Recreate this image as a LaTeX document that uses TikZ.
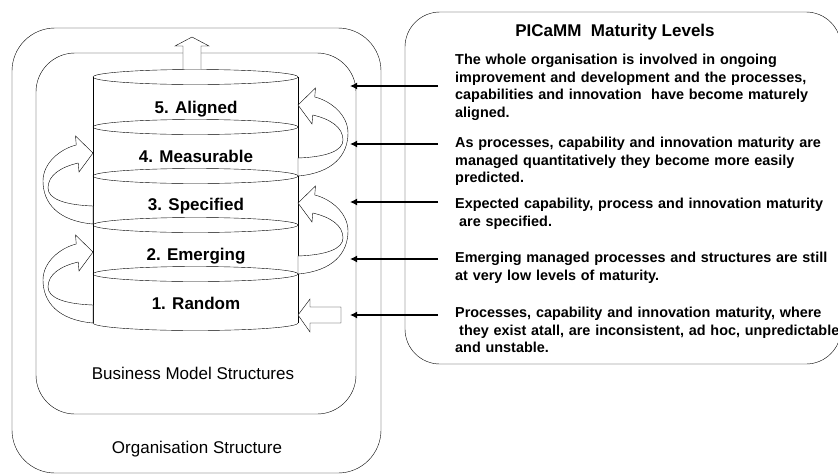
\documentclass[tikz,border=0pt]{standalone}
\usepackage{fontspec}
\setmainfont{Liberation Sans}
\usetikzlibrary{arrows.meta}

\begin{document}
\begin{tikzpicture}[x=1pt,y=-1pt]
  \tikzset{level/.style = {font=\fontsize{17}{20}\selectfont\bfseries,anchor=base,inner sep=0pt}}
  \tikzset{plain/.style = {font=\fontsize{17}{20}\selectfont,anchor=base,inner sep=0pt}}
  \tikzset{note/.style = {font=\fontsize{14.4}{17.6}\selectfont\bfseries,align=left,text width=440pt,anchor=base west,inner sep=0pt}}
  \tikzset{pointer/.style = {-{Latex[length=7pt,width=7pt]},line width=1.6pt}}
  \tikzset{block/.style = {draw,fill=white,line join=miter}}
  \tikzset{curl/.pic = {
    \draw[block] (0,71) .. controls (35,68) and (50,50) .. (50,28)
      .. controls (50,10) and (33,-4) .. (16.75,-8) -- (17.5,-17) -- (0,0)
      -- (14,19) -- (14.75,10) .. controls (32,14) and (45,22) .. (45,35)
      .. controls (45,46) and (28,52) .. (0,53) -- cycle;
  }}

  \useasboundingbox (0,0) rectangle (838,475);
  \clip (0,0) rectangle (838,475);

  % frames
  \draw[rounded corners=43pt] (12,28) rectangle (381,473);
  \draw[rounded corners=39pt] (36,53) rectangle (356,414);
  \draw[rounded corners=35pt] (405,12) rectangle (841,364);

  \node[plain] (org) at (197,453) {Organisation Structure};
  \node[plain] (bms) at (193,379) {Business Model Structures};

  % stack of levels
  \draw (93,77) -- (93,323) (298,77) -- (298,323);
  \foreach \y in {77,127,176,225,274}
    \draw (195.5,\y) ellipse [x radius=102.5pt, y radius=7.5pt];
  \draw (93,323) arc [start angle=180, end angle=360, x radius=102.5pt, y radius=7.5pt];

  \foreach \n/\y/\txt in {1/309/1. Random, 2/260/2. Emerging, 3/210/3. Specified,
                          4/162/4. Measurable, 5/113/5. Aligned}
    \node[level] (lvl\n) at (196,\y) {\txt};

  % block arrows
  \draw[block] (183,69) -- (183,46) -- (175,46) -- (192,37) -- (209,46)
    -- (201,46) -- (201,69);
  \draw[block] (298,315) -- (310,299) -- (310,307) -- (341,307) -- (341,323)
    -- (310,323) -- (310,332) -- cycle;
  \pic at (298,105) {curl};
  \pic at (298,203) {curl};
  \pic[xscale=-1] at (93,153) {curl};
  \pic[xscale=-1] at (93,252) {curl};

  % maturity levels
  \node[font=\fontsize{17}{20}\selectfont\bfseries,anchor=base,inner sep=0pt] (title) at (615,36) {PICaMM\ \ Maturity Levels};
  \node[note] (note5) at (455,64.5) {The whole organisation is involved in ongoing\\
    improvement and development and the processes,\\
    capabilities and innovation\ \ have become maturely\\ aligned.};
  \node[note] (note4) at (455,147.5) {As processes, capability and innovation maturity are\\
    managed quantitatively they become more easily\\ predicted.};
  \node[note] (note3) at (455,208.5) {Expected capability, process and innovation maturity\\
    \hspace*{4pt}are specified.};
  \node[note] (note2) at (455,262.5) {Emerging managed processes and structures are still\\
    at very low levels of maturity.};
  \node[note] (note1) at (455,317.5) {Processes, capability and innovation maturity, where\\
    \hspace*{4pt}they exist atall, are inconsistent, ad hoc, unpredictable\\ and unstable.};

  \foreach \n/\y in {5/86,4/144,3/202,2/259,1/315} {
    \coordinate (from\n) at (438,\y);
    \coordinate (to\n) at (350,\y);
    \draw[pointer] (from\n) -- (to\n);
  }
\end{tikzpicture}
\end{document}
